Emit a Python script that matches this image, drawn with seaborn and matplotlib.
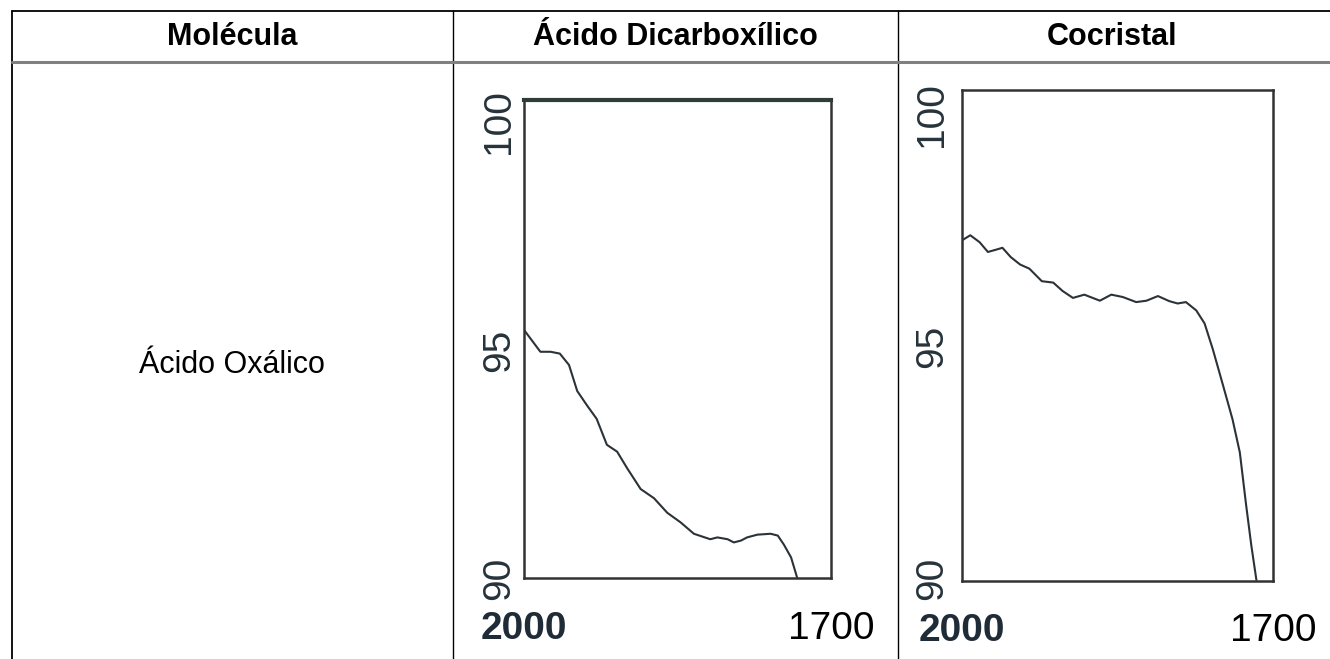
import matplotlib
matplotlib.use("Agg")
import matplotlib.pyplot as plt
import seaborn as sns
import pandas as pd

# header / row text
headers = ["Molécula", "Ácido Dicarboxílico", "Cocristal"]
row_label = "Ácido Oxálico"

# FTIR spectra (wavenumber cm-1, transmittance %)
acid_wn = [2000, 1984, 1974, 1965, 1956, 1948, 1938, 1929, 1919, 1909, 1899, 1886, 1873, 1860,
           1847, 1834, 1818, 1811, 1801, 1795, 1788, 1782, 1772, 1759, 1752, 1746, 1739, 1733]
acid_t = [95.44, 94.96, 94.96, 94.92, 94.67, 94.10, 93.77, 93.49, 92.92, 92.77, 92.40, 91.95, 91.75, 91.43,
          91.22, 90.97, 90.85, 90.89, 90.85, 90.78, 90.82, 90.89, 90.95, 90.97, 90.93, 90.73, 90.45, 90.0]

cocrystal_wn = [2000, 1992, 1983, 1975, 1967, 1961, 1953, 1944, 1935, 1923, 1912, 1903, 1893, 1882, 1867, 1856,
                1845, 1832, 1822, 1811, 1800, 1792, 1784, 1774, 1766, 1758, 1748, 1739, 1732, 1726, 1721, 1716]
cocrystal_t = [97.28, 97.39, 97.24, 97.03, 97.08, 97.12, 96.92, 96.76, 96.67, 96.40, 96.37, 96.19, 96.04, 96.11,
               95.98, 96.11, 96.06, 95.95, 95.98, 96.08, 95.97, 95.92, 95.95, 95.77, 95.49, 94.93, 94.14, 93.42,
               92.71, 91.59, 90.72, 89.96]

x_ticks = [2000, 1700]
y_ticks = [90, 95, 100]

sns.set_style("white")
plt.rcParams["font.family"] = ["Liberation Sans", "DejaVu Sans"]

W, H = 1330, 659
fig = plt.figure(figsize=(W / 100, H / 100), dpi=100)

# table background in pixel coordinates
bg = fig.add_axes([0, 0, 1, 1])
bg.set_xlim(0, W)
bg.set_ylim(H, 0)
bg.axis("off")

bg.plot([12, W], [11, 11], color="black", lw=1.3)
bg.plot([12, 12], [11, H], color="black", lw=1.3)
bg.plot([453, 453], [11, H], color="black", lw=1.0)
bg.plot([898, 898], [11, H], color="black", lw=1.0)
bg.plot([12, W], [62, 62], color="#808080", lw=2.2)

for txt, cx in zip(headers, [232, 675, 1112]):
    bg.text(cx, 37, txt, ha="center", va="center", fontsize=22, fontweight="bold", color="black")
bg.text(232, 365, row_label, ha="center", va="center", fontsize=22, color="black")


def spectrum(rect, wn, t, ylim, ypad, xpad, thick_top=False):
    ax = fig.add_axes(rect)
    df = pd.DataFrame({"wn": wn, "t": t})
    sns.lineplot(data=df, x="wn", y="t", ax=ax, color="#2b3338", lw=1.5)
    ax.set_xlim(2000, 1700)
    ax.set_ylim(*ylim)
    ax.set_xlabel("")
    ax.set_ylabel("")
    ax.set_xticks(x_ticks)
    ax.set_xticklabels([str(v) for v in x_ticks])
    ax.set_yticks(y_ticks)
    ax.set_yticklabels([str(v) for v in y_ticks], rotation=90, va="center")
    ax.tick_params(axis="x", length=0, pad=xpad, labelsize=28)
    ax.tick_params(axis="y", length=0, pad=ypad, labelsize=28, labelcolor="#27333b")
    labs = ax.get_xticklabels()
    labs[0].set_fontweight("bold")
    labs[0].set_color("#1f2b36")
    labs[1].set_color("black")
    for s in ax.spines.values():
        s.set_visible(True)
        s.set_color("#333333")
        s.set_linewidth(1.8)
    if thick_top:
        ax.spines["top"].set_linewidth(3.0)
        ax.spines["top"].set_color("#2f3d3a")
    return ax


spectrum([524 / W, 1 - 578 / H, 307 / W, 478 / H], acid_wn, acid_t, (90, 100.48), 5, 24, thick_top=True)
spectrum([962 / W, 1 - 581 / H, 311 / W, 491 / H], cocrystal_wn, cocrystal_t, (89.94, 100.52), 8.5, 23)

fig.savefig("out.png", dpi=100)
